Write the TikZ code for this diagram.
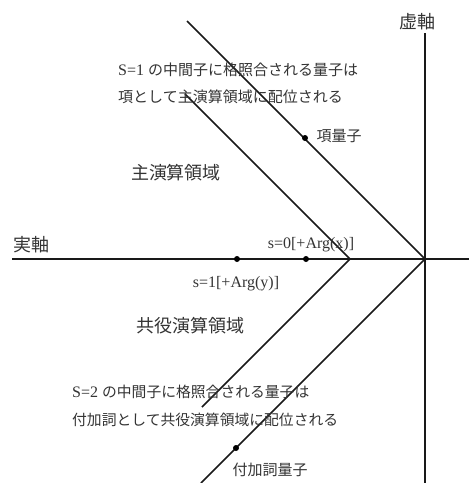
\documentclass[tikz,border=0pt]{standalone}
\usepackage{fontspec}
\setmainfont{Liberation Serif}
\newfontfamily\cjk{Noto Sans CJK JP}
\begin{document}
\begin{tikzpicture}[x=1pt,y=-1pt,
  axisline/.style={line width=1.5pt,draw=black!90},
  dotmark/.style={circle,fill=black,inner sep=0pt,minimum size=6pt},
  biglab/.style={inner sep=0pt,text=black!80,font=\cjk\fontsize{18}{20}\selectfont},
  midlab/.style={inner sep=0pt,text=black!80,font=\cjk\fontsize{15}{18}\selectfont},
  latlab/.style={inner sep=0pt,text=black!80,font=\fontsize{16}{18}\selectfont},
  txtline/.style={inner sep=0pt,anchor=west,text=black!80,font=\fontsize{16}{18}\selectfont}]
\useasboundingbox (0,0) rectangle (469,483);
% coordinates
\coordinate (O) at (425,259);
\coordinate (V) at (350,259);
\coordinate (xl) at (12,259);
\coordinate (xr) at (469,259);
\coordinate (yt) at (425,33);
\coordinate (yb) at (425,483);
\coordinate (ou) at (187,21);
\coordinate (ol) at (201,483);
\coordinate (iu) at (185,94);
\coordinate (il) at (202,407);
% axes and lines
\draw[axisline] (xl) -- (xr);
\draw[axisline] (yt) -- (yb);
\draw[axisline] (ou) -- (O) -- (ol);
\draw[axisline] (iu) -- (V) -- (il);
% dots
\node[dotmark] (d1) at (237,259) {};
\node[dotmark] (d2) at (306,259) {};
\node[dotmark] (d3) at (305,138) {};
\node[dotmark] (d4) at (236,448) {};
% labels
\node[biglab] (ylab) at (417,22) {虚軸};
\node[biglab] (xlab) at (31,245) {実軸};
\node[latlab] (s0) at (311,245) {s=0[+Arg(x)]};
\node[latlab] (s1) at (236,284) {s=1[+Arg(y)]};
\node[midlab] (kou) at (339,136) {項量子};
\node[biglab] (main) at (176,173) {主演算領域};
\node[biglab] (conj) at (190,326) {共役演算領域};
\node[midlab] (fuka) at (270,470) {付加詞量子};
\node[txtline] (t1) at (118,70) {S=1 {\cjk\fontsize{15}{18}\selectfont の中間子に格照合される量子は}};
\node[txtline,font=\cjk\fontsize{15}{18}\selectfont] (t2) at (118,97) {項として主演算領域に配位される};
\node[txtline] (t3) at (72,392) {S=2 {\cjk\fontsize{14.8}{18}\selectfont の中間子に格照合される量子は}};
\node[txtline,font=\cjk\fontsize{14.8}{18}\selectfont] (t4) at (72,420) {付加詞として共役演算領域に配位される};
\end{tikzpicture}
\end{document}
